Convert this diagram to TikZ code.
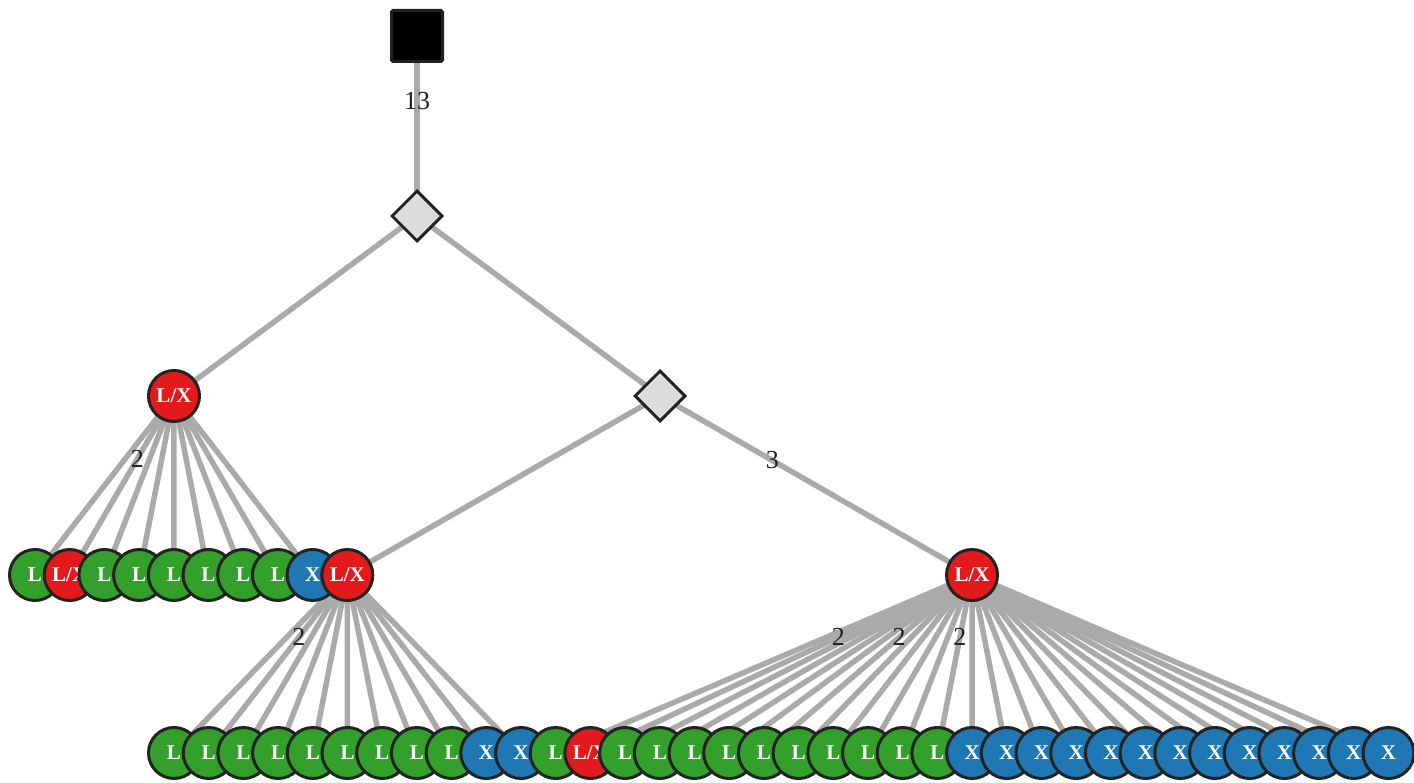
\documentclass[tikz,border=0pt]{standalone}
\usepackage{fontspec}
\setmainfont{Liberation Serif}
\usetikzlibrary{shapes.geometric, backgrounds}
\definecolor{leafgreen}{HTML}{33A02C}
\definecolor{leafred}{HTML}{E31A1C}
\definecolor{leafblue}{HTML}{1F78B4}
\definecolor{ink}{HTML}{222222}
\definecolor{edgegray}{HTML}{AAAAAA}
\definecolor{chancefill}{HTML}{DDDDDD}
% leaf texts
\newcommand{\leaftxtL}{L}
\newcommand{\leaftxtX}{X}
\newcommand{\leaftxtLX}{L/X}

\begin{document}
\begin{tikzpicture}[x=1pt, y=-1pt,
  leaf/.style={circle, draw=ink, line width=3pt, minimum size=51pt, inner sep=0pt,
    text=white, font=\fontsize{21}{21}\selectfont\bfseries},
  leafL/.style={leaf, fill=leafgreen},
  leafX/.style={leaf, fill=leafblue},
  leafLX/.style={leaf, fill=leafred},
  chance/.style={diamond, draw=ink, line width=3pt, fill=chancefill,
    minimum size=51pt, inner sep=0pt},
  decision/.style={rectangle, draw=ink, line width=3pt, fill=black,
    minimum size=51pt, rounded corners=1.5pt},
  branch/.style={draw=edgegray, line width=5.5pt},
  tally/.style={pos=.35, text=ink, font=\fontsize{26}{26}\selectfont}]
  \useasboundingbox (0,0) rectangle (1414,783);
  % decision and chance nodes
  \node[decision] (root) at (417,36) {};
  \node[chance] (d1) at (417,216) {};
  \node[chance] (d2) at (660,396) {};
  \node[leafLX] (a) at (174,396) {L/X};
  % middle row
  \foreach \t [count=\i] in {L,LX,L,L,L,L,L,L,X,LX}
    \node[leaf\t] (r\i) at ({35+34.7*(\i-1)},575) {\csname leaftxt\t\endcsname};
  \node[leafLX] (b) at (972,575) {L/X};
  % bottom row
  \foreach \t [count=\i] in {L,L,L,L,L,L,L,L,L,X,X,L,LX,L,L,L,L,L,L,L,L,L,L,
      X,X,X,X,X,X,X,X,X,X,X,X,X}
    \node[leaf\t] (s\i) at ({174+34.7*(\i-1)},753) {\csname leaftxt\t\endcsname};
  % branches behind the nodes
  \begin{scope}[on background layer]
    \draw[branch] (root.center) -- (d1.center);
    \draw[branch] (d1.center) -- (a.center);
    \draw[branch] (d1.center) -- (d2.center);
    \draw[branch] (d2.center) -- (r10.center);
    \draw[branch] (d2.center) -- (b.center);
    \foreach \i in {1,...,9}
      \draw[branch] (a.center) -- (r\i.center);
    \foreach \i in {1,...,11}
      \draw[branch] (r10.center) -- (s\i.center);
    \foreach \i in {12,...,36}
      \draw[branch] (b.center) -- (s\i.center);
    % counts
    \path (root.center) -- node[tally, pos=.36] {13} (d1.center);
    \path (d2.center) -- node[tally, pos=.36] {3} (b.center);
    \path (a.center) -- node[tally] {2} (r2.center);
    \path (r10.center) -- node[tally] {2} (s2.center);
    \foreach \i in {13,18,23}
      \path (b.center) -- node[tally] {2} (s\i.center);
  \end{scope}
\end{tikzpicture}
\end{document}
